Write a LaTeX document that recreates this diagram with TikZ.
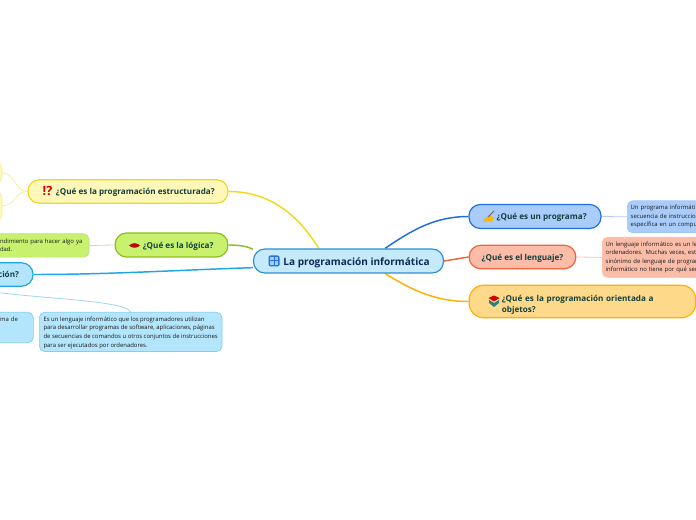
\documentclass[tikz,border=0pt]{standalone}
\usepackage{fontspec}
\setmainfont{Open Sans}
\usetikzlibrary{backgrounds}
\definecolor{mapInk}{HTML}{12403F}
\definecolor{rootInk}{HTML}{0F2A55}
\definecolor{rootFill}{HTML}{C5EAFB}
\definecolor{rootEdge}{HTML}{2F8FD2}
\definecolor{structFill}{HTML}{FFF8B8}
\definecolor{structEdge}{HTML}{F0D820}
\definecolor{logicFill}{HTML}{C8F26E}
\definecolor{logicEdge}{HTML}{8DBE1E}
\definecolor{langFill}{HTML}{B3E5FC}
\definecolor{langEdge}{HTML}{1EA6E6}
\definecolor{progFill}{HTML}{A9CCFB}
\definecolor{progEdge}{HTML}{1F6FDB}
\definecolor{lexFill}{HTML}{FBBCA8}
\definecolor{lexEdge}{HTML}{F2643D}
\definecolor{oopFill}{HTML}{FFD98A}
\definecolor{oopEdge}{HTML}{FFB000}
\tikzset{
  topic/.style={draw,line width=0.9pt,rounded corners=8.5pt,inner sep=0pt,text depth=0pt,text=mapInk,font=\fontsize{6.1}{8.4}\selectfont\bfseries},
  detail/.style={draw,line width=0.5pt,rounded corners=4pt,inner sep=0pt,text=black!90,font=\fontsize{4.45}{6.4}\selectfont,align=left},
  link/.style={line width=1.1pt},
  sublink/.style={line width=0.6pt}
}
\begin{document}
\begin{tikzpicture}[x=0.75pt,y=-0.75pt]
  \useasboundingbox (0,0) rectangle (696,520);
  \clip (0,0) rectangle (696,520);
  % centre
  \node[topic,fill=rootFill,draw=rootEdge,minimum width=142.5pt,minimum height=18pt,font=\fontsize{7.55}{10}\selectfont\bfseries,text=rootInk] (root) at (348.5,261) {\hspace*{12pt}\raisebox{-0.8pt}{La programación informática}};
  % left side
  \node[topic,fill=structFill,draw=structEdge,minimum width=150pt,minimum height=17.5pt] (struct) at (128,191.5) {\hspace*{11pt}¿Qué es la programación estructurada?};
  \node[topic,fill=logicFill,draw=logicEdge,minimum width=84.5pt,minimum height=18pt] (logic) at (171.5,245) {\hspace*{10pt}¿Qué es la lógica?};
  \node[topic,fill=langFill,draw=langEdge,minimum width=90pt,minimum height=17.5pt,text width=69pt,align=right] (lang) at (-27,274.5) {ción?};
  \node[detail,fill=structFill,draw=structEdge!45,minimum width=30pt,minimum height=15pt] (structa) at (-18,173) {};
  \node[detail,fill=structFill,draw=structEdge!45,minimum width=30pt,minimum height=21pt] (structb) at (-18,206) {};
  \node[detail,fill=logicFill,draw=logicEdge!55,minimum width=90pt,minimum height=17.5pt,text width=81pt] (logictext) at (29,245.5) {\hspace*{18.75pt}ndimiento para hacer algo ya\\\hspace*{18.75pt}dad.};
  \node[detail,fill=langFill,draw=langEdge!55,minimum width=60pt,text width=49pt,anchor=north west,inner ysep=3.3pt] (langa) at (-47,312) {\hspace*{29.6pt}ma de\\~\\~};
  \node[detail,fill=langFill,draw=langEdge!55,minimum width=137pt,anchor=north west,inner xsep=2pt,inner ysep=3.4pt,text depth=0pt] (langb) at (39,312) {Es un lenguaje informático que los programadores utilizan\\para desarrollar programas de software, aplicaciones, páginas\\de secuencias de comandos u otros conjuntos de instrucciones\\para ser ejecutados por ordenadores.};
  % right side
  \node[topic,fill=progFill,draw=progEdge,minimum width=99pt,minimum height=18pt] (prog) at (535,216.5) {\hspace*{10pt}¿Qué es un programa?};
  \node[topic,fill=lexFill,draw=lexEdge,minimum width=80pt,minimum height=17.5pt] (lex) at (522.5,257) {¿Qué es el lenguaje?};
  \node[topic,fill=oopFill,draw=oopEdge,minimum width=170pt,minimum height=24.5pt,rounded corners=11pt,text width=145pt,align=left,text depth=4.5pt] (oop) at (582.5,301.5) {\hspace*{12pt}¿Qué es la programación orientada a\\\hspace*{12pt}objetos?};
  \node[detail,fill=progFill,draw=progEdge!40,minimum width=90pt,minimum height=24pt,text width=85pt,anchor=north west] (progtext) at (627,200.5) {Un programa informáti\\secuencia de instruccio\\específica en un compu};
  \node[detail,fill=lexFill,draw=lexEdge!45,minimum width=90pt,minimum height=30pt,text width=85pt,anchor=north west] (lextext) at (602,237) {Un lenguaje informático es un le\\ordenadores. Muchas veces, est\\sinónimo de lenguaje de program\\informático no tiene por qué ser};
  % icons
  \fill[rootEdge!80!blue,rounded corners=1.5pt] (268.5,255.5) rectangle (279.5,266.5);
  \foreach \xx in {270,274.5} {
    \foreach \yy in {257,261.5} {
      \fill[rootEdge!45!white] (\xx,\yy) rectangle ++(3.5,3.5);
    }
  }
  \node[text=red!85!black,inner sep=0pt,font=\fontsize{9.5}{10}\selectfont\bfseries] (structicon) at (47.5,191) {!?};
  \fill[red!75!black] (129,245.5) .. controls (132,242.5) and (137,242.5) .. (140,245.5) .. controls (137,248.5) and (132,248.5) .. (129,245.5) -- cycle;
  \fill[orange!55!yellow] (483,220) -- (490,215) -- (494,218) -- (492,221.5) -- (483,222) -- cycle;
  \draw[black!60,line width=0.7pt] (488,217) -- (494,211);
  \fill[red!80!black] (488.5,298) -- (494,295.5) -- (499.5,298) -- (494,301.5) -- cycle;
  \fill[teal!70!gray] (489,300) -- (494,303) -- (499,300) -- (499,303) -- (494,307) -- (489,303) -- cycle;
  % connectors
  \begin{scope}[on background layer]
    \draw[link,structEdge] (root.157) .. controls (298,215) and (270,191.5) .. (struct.east);
    \draw[link,logicEdge] (root.173) .. controls (250,248) and (245,245) .. (logic.east);
    \draw[link,langEdge] (root.184) .. controls (180,270) and (110,274.5) .. (lang.east);
    \draw[link,progEdge] (root.19) .. controls (412,230) and (435,216.5) .. (prog.west);
    \draw[link,lexEdge] (root.east) -- (lex.west);
    \draw[link,oopEdge] (root.-19) .. controls (412,290) and (435,301.5) .. (oop.west);
    \draw[sublink,structEdge!45] (struct.west) .. controls (15,191.5) and (15,173) .. (structa.east);
    \draw[sublink,structEdge!45] (struct.west) .. controls (15,191.5) and (15,206) .. (structb.east);
    \draw[sublink,logicEdge!45] (logic.west) -- (logictext.east);
    \draw[sublink,progEdge!35] (prog.east) -- (progtext.west);
    \draw[sublink,lexEdge!40] (lex.east) -- (lextext.west);
    \draw[sublink,langEdge!45] (lang.south) .. controls (-5,298) and (125,298) .. (langb.north);
  \end{scope}
\end{tikzpicture}
\end{document}
